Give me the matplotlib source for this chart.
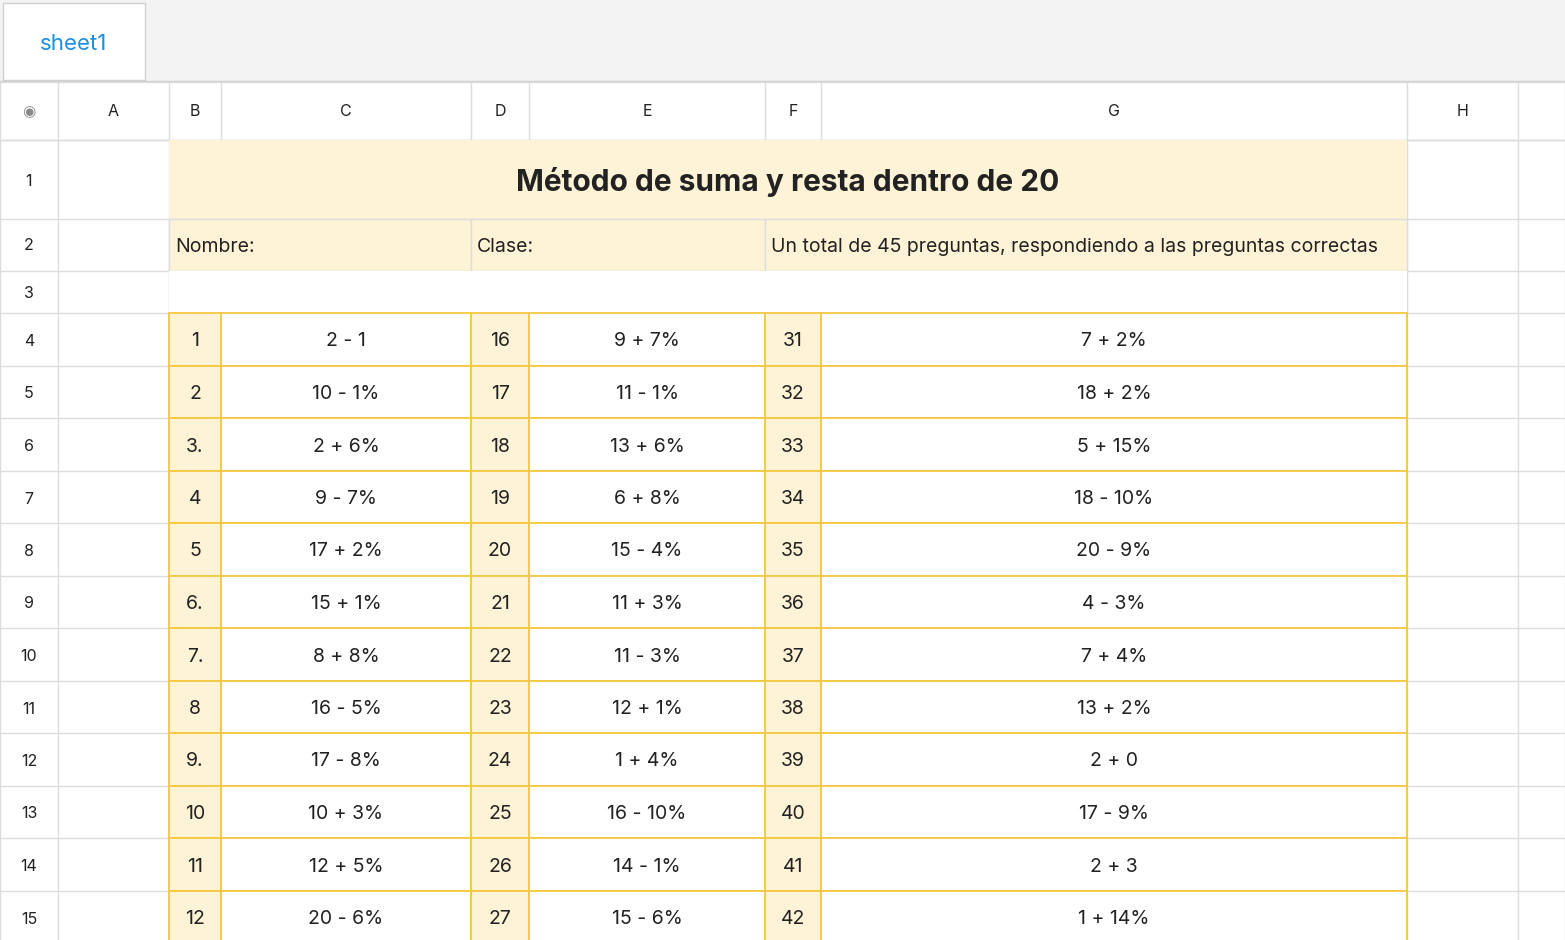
import matplotlib
matplotlib.use("Agg")
import matplotlib.pyplot as plt
from matplotlib.patches import Rectangle

plt.rcParams['font.family'] = ['Inter', 'DejaVu Sans']

title = "Método de suma y resta dentro de 20"
row2 = ["Nombre:", "Clase:", "Un total de 45 preguntas, respondiendo a las preguntas correctas"]
col_letters = ["A", "B", "C", "D", "E", "F", "G", "H"]
row_labels = [str(i) for i in range(1, 16)]
nums1 = ["1", "2", "3.", "4", "5", "6.", "7.", "8", "9.", "10", "11", "12"]
exprs1 = ["2 - 1", "10 - 1%", "2 + 6%", "9 - 7%", "17 + 2%", "15 + 1%", "8 + 8%", "16 - 5%", "17 - 8%", "10 + 3%", "12 + 5%", "20 - 6%"]
nums2 = [str(i) for i in range(16, 28)]
exprs2 = ["9 + 7%", "11 - 1%", "13 + 6%", "6 + 8%", "15 - 4%", "11 + 3%", "11 - 3%", "12 + 1%", "1 + 4%", "16 - 10%", "14 - 1%", "15 - 6%"]
nums3 = [str(i) for i in range(31, 43)]
exprs3 = ["7 + 2%", "18 + 2%", "5 + 15%", "18 - 10%", "20 - 9%", "4 - 3%", "7 + 4%", "13 + 2%", "2 + 0", "17 - 9%", "2 + 3", "1 + 14%"]

W, H = 1565, 940
fig = plt.figure(figsize=(W/100, H/100), dpi=100)
ax = fig.add_axes([0, 0, 1, 1])
ax.set_xlim(0, W); ax.set_ylim(H, 0); ax.axis('off')

cols = [0, 58, 169, 221, 471, 529, 765, 821, 1407, 1518, 1565]
rows = [140, 219, 271, 313, 366, 418, 471, 523, 576, 628, 681, 733, 786, 838, 891, 943]
grid = '#dcdcdc'; gold = '#f5c842'; cream = '#fef3d6'; txt = '#222222'
FS = 14

def rect(x0, y0, x1, y1, fc, ec='none', lw=1, z=1):
    ax.add_patch(Rectangle((x0, y0), x1-x0, y1-y0, facecolor=fc, edgecolor=ec, lw=lw, zorder=z))

# tab bar
rect(0, 0, W, 81, '#f3f3f3')
rect(3, 3, 145, 80, 'white', '#d0d0d0')
ax.text(74, 44, "sheet1", color='#1a8fe3', fontsize=16, ha='center', va='center')
ax.plot([0, W], [81, 81], color='#d0d0d0', lw=1)
# header
rect(0, 82, W, 140, 'white')
for x in cols:
    ax.plot([x, x], [82, H], color=grid, lw=1, zorder=2)
for y in [82, 140] + rows:
    ax.plot([0, W], [y, y], color=grid, lw=1, zorder=2)
for i, l in enumerate(col_letters):
    ax.text((cols[i+1]+cols[i+2])/2, 112, l, ha='center', va='center', fontsize=11.5, color=txt)
ax.text(29, 112, "◉", ha='center', va='center', fontsize=11, color='#888888')
for i, l in enumerate(row_labels):
    yc = (rows[i]+rows[i+1])/2 + 2
    if i == 1: yc = 246
    if i == 2: yc = 293
    ax.text(29, yc, l, ha='center', va='center', fontsize=11.5, color=txt)

# title
rect(169, 140, 1407, 219, cream, z=3)
ax.text(788, 182, title, ha='center', va='center', fontsize=21.5, fontweight='bold', color=txt, zorder=4)
# row 2
for (x0, x1), t in zip([(169, 471), (471, 765), (765, 1407)], row2):
    rect(x0, 219, x1, 271, cream, grid, z=3)
    ax.text(x0+6, 247, t, ha='left', va='center', fontsize=FS, color=txt, zorder=4)
rect(169, 271, 1407, 313, 'white', z=3)

# table
groups = [(nums1, exprs1, 2), (nums2, exprs2, 4), (nums3, exprs3, 6)]
for nums, exprs, ci in groups:
    for r in range(12):
        y0, y1 = rows[3+r], rows[4+r]
        rect(cols[ci], y0, cols[ci+1], y1, cream, gold, 1.3, z=3)
        rect(cols[ci+1], y0, cols[ci+2], y1, 'white', gold, 1.3, z=3)
        yc = (y0+y1)/2 + 2
        ax.text((cols[ci]+cols[ci+1])/2, yc, nums[r], ha='center', va='center', fontsize=FS, color=txt, zorder=4)
        ax.text((cols[ci+1]+cols[ci+2])/2, yc, exprs[r], ha='center', va='center', fontsize=FS, color=txt, zorder=4)

fig.savefig("out.png", dpi=100)
